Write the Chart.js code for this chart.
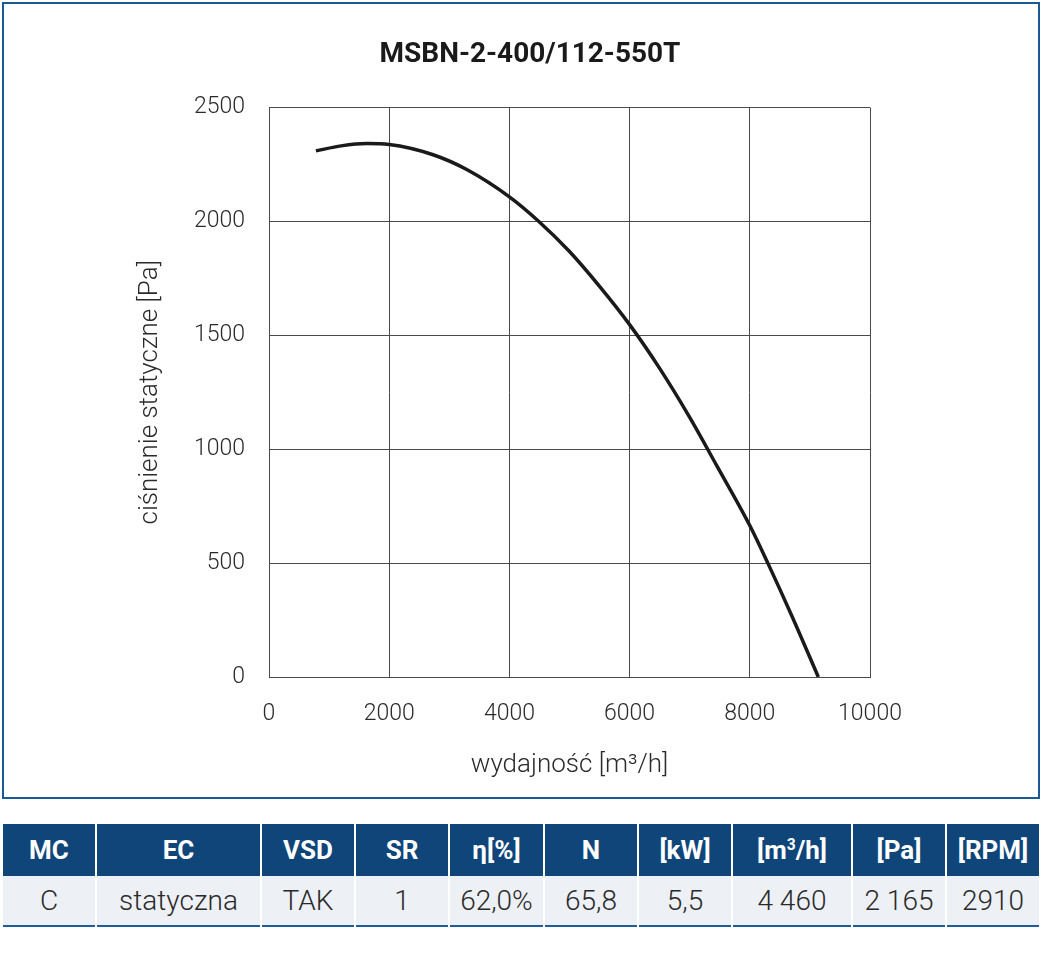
<!DOCTYPE html>
<html>
<head>
<meta charset="utf-8">
<script src="https://cdn.jsdelivr.net/npm/chart.js@4.4.1/dist/chart.umd.min.js"></script>
<style>
  html, body { margin: 0; padding: 0; background: #ffffff; }
  #box { position: absolute; left: 2px; top: 2px; width: 1034px; height: 793px; border: 2px solid #1b5896; }
  #chart { display: block; }
  #tbl { position: absolute; left: 3px; top: 824px; width: 1036px; border-collapse: collapse; table-layout: fixed;
         font-family: Roboto, "DejaVu Sans", sans-serif; border-bottom: 2px solid #1f5c99; }
  #tbl th { background: #0f4579; color: #ffffff; font-weight: bold; font-size: 26px; height: 52px; padding: 0;
            border-left: 2px solid #ffffff; text-align: center; }
  #tbl td { background: #edf0f5; color: #2a2a2a; font-weight: 300; font-size: 28px; height: 49px; padding: 0;
            border-left: 2px solid #ffffff; text-align: center; }
  #tbl th:first-child, #tbl td:first-child { border-left: none; }
  sup { font-size: 0.6em; vertical-align: 0.6em; line-height: 0; }
</style>
</head>
<body>
<div id="box"><canvas id="chart" width="1034" height="793"></canvas></div>
<table id="tbl">
  <colgroup id="cols"></colgroup>
  <thead><tr id="hdr"></tr></thead>
  <tbody><tr id="row"></tr></tbody>
</table>
<script>
// ---- data ----
const chartTitle = "MSBN-2-400/112-550T";
const xAxisTitle = "wydajność [m³/h]";
const yAxisTitle = "ciśnienie statyczne [Pa]";
const flowValues = [780, 1200, 1625, 2000, 2730, 3290, 4000, 4490, 5000, 5500, 6000, 6500, 7000, 7450, 8000, 8300, 8700, 9140];
const pressureValues = [2310, 2332, 2342, 2338, 2293, 2228, 2108, 2000, 1868, 1715, 1547, 1355, 1140, 928, 665, 500, 268, 0];
const xMin = 0, xMax = 10000, xStep = 2000;
const yMin = 0, yMax = 2500, yStep = 500;
const tableHeaders = ["MC", "EC", "VSD", "SR", "η[%]", "N", "[kW]", "[m³/h]", "[Pa]", "[RPM]"];
const tableValues = ["C", "statyczna", "TAK", "1", "62,0%", "65,8", "5,5", "4 460", "2 165", "2910"];
const columnWidths = [93, 165, 94, 94, 95, 94, 94, 120, 94, 93];

// ---- table ----
const cols = document.getElementById('cols');
columnWidths.forEach(w => { const c = document.createElement('col'); c.style.width = w + 'px'; cols.appendChild(c); });
const hdr = document.getElementById('hdr');
tableHeaders.forEach(h => {
  const th = document.createElement('th');
  if (h === "[m³/h]") { th.innerHTML = "[m<sup>3</sup>/h]"; } else { th.textContent = h; }
  hdr.appendChild(th);
});
const row = document.getElementById('row');
tableValues.forEach(v => { const td = document.createElement('td'); td.textContent = v; row.appendChild(td); });

// ---- chart ----
const FONT = 'Roboto, "DejaVu Sans", sans-serif';
const gridColor = '#4a4a4a';
new Chart(document.getElementById('chart'), {
  type: 'line',
  data: {
    datasets: [{
      data: flowValues.map((x, i) => ({ x: x, y: pressureValues[i] })),
      borderColor: '#1a1a1a',
      borderWidth: 3.5,
      pointRadius: 0,
      fill: false,
      cubicInterpolationMode: 'monotone',
      xAxisID: 'x',
      yAxisID: 'y'
    }]
  },
  options: {
    responsive: false,
    animation: false,
    devicePixelRatio: 1,
    layout: { padding: { left: 18, right: 0, top: 0, bottom: 0 } },
    plugins: {
      legend: { display: false },
      tooltip: { enabled: false },
      title: {
        display: true,
        text: chartTitle,
        color: '#1a1a1a',
        font: { family: FONT, size: 28, weight: 'bold', lineHeight: 1.2 },
        padding: { top: 34, bottom: 36 }
      }
    },
    scales: {
      x: {
        type: 'linear',
        position: 'bottom',
        min: xMin, max: xMax,
        ticks: { stepSize: xStep, color: '#2a2a2a', padding: 23, maxRotation: 0,
                 callback: v => String(v),
                 font: { family: FONT, size: 23, weight: 300 } },
        grid: { color: gridColor, lineWidth: 1, drawTicks: false },
        border: { display: true, color: gridColor, width: 1 },
        title: { display: true, text: xAxisTitle, color: '#2a2a2a',
                 font: { family: FONT, size: 26, weight: 300, lineHeight: 1.2 },
                 padding: { top: 0, bottom: 16 } },
        afterFit: s => { s.height = 120; }
      },
      y: {
        type: 'linear',
        position: 'left',
        min: yMin, max: yMax,
        ticks: { stepSize: yStep, color: '#2a2a2a', padding: 24,
                 callback: v => String(v),
                 font: { family: FONT, size: 23, weight: 300 } },
        grid: { color: gridColor, lineWidth: 1, drawTicks: false },
        border: { display: true, color: gridColor, width: 1 },
        title: { display: true, text: yAxisTitle, color: '#2a2a2a',
                 font: { family: FONT, size: 26, weight: 300, lineHeight: 1.2 },
                 padding: { top: 113, bottom: 0 } },
        afterFit: s => { s.width = 247; }
      },
      yRight: {
        type: 'linear',
        position: 'right',
        min: 0, max: 1,
        display: true,
        ticks: { display: false },
        grid: { display: false, drawTicks: false },
        border: { display: false },
        title: { display: false },
        afterFit: s => { s.width = 168; }
      }
    }
  }
});
</script>
</body>
</html>
